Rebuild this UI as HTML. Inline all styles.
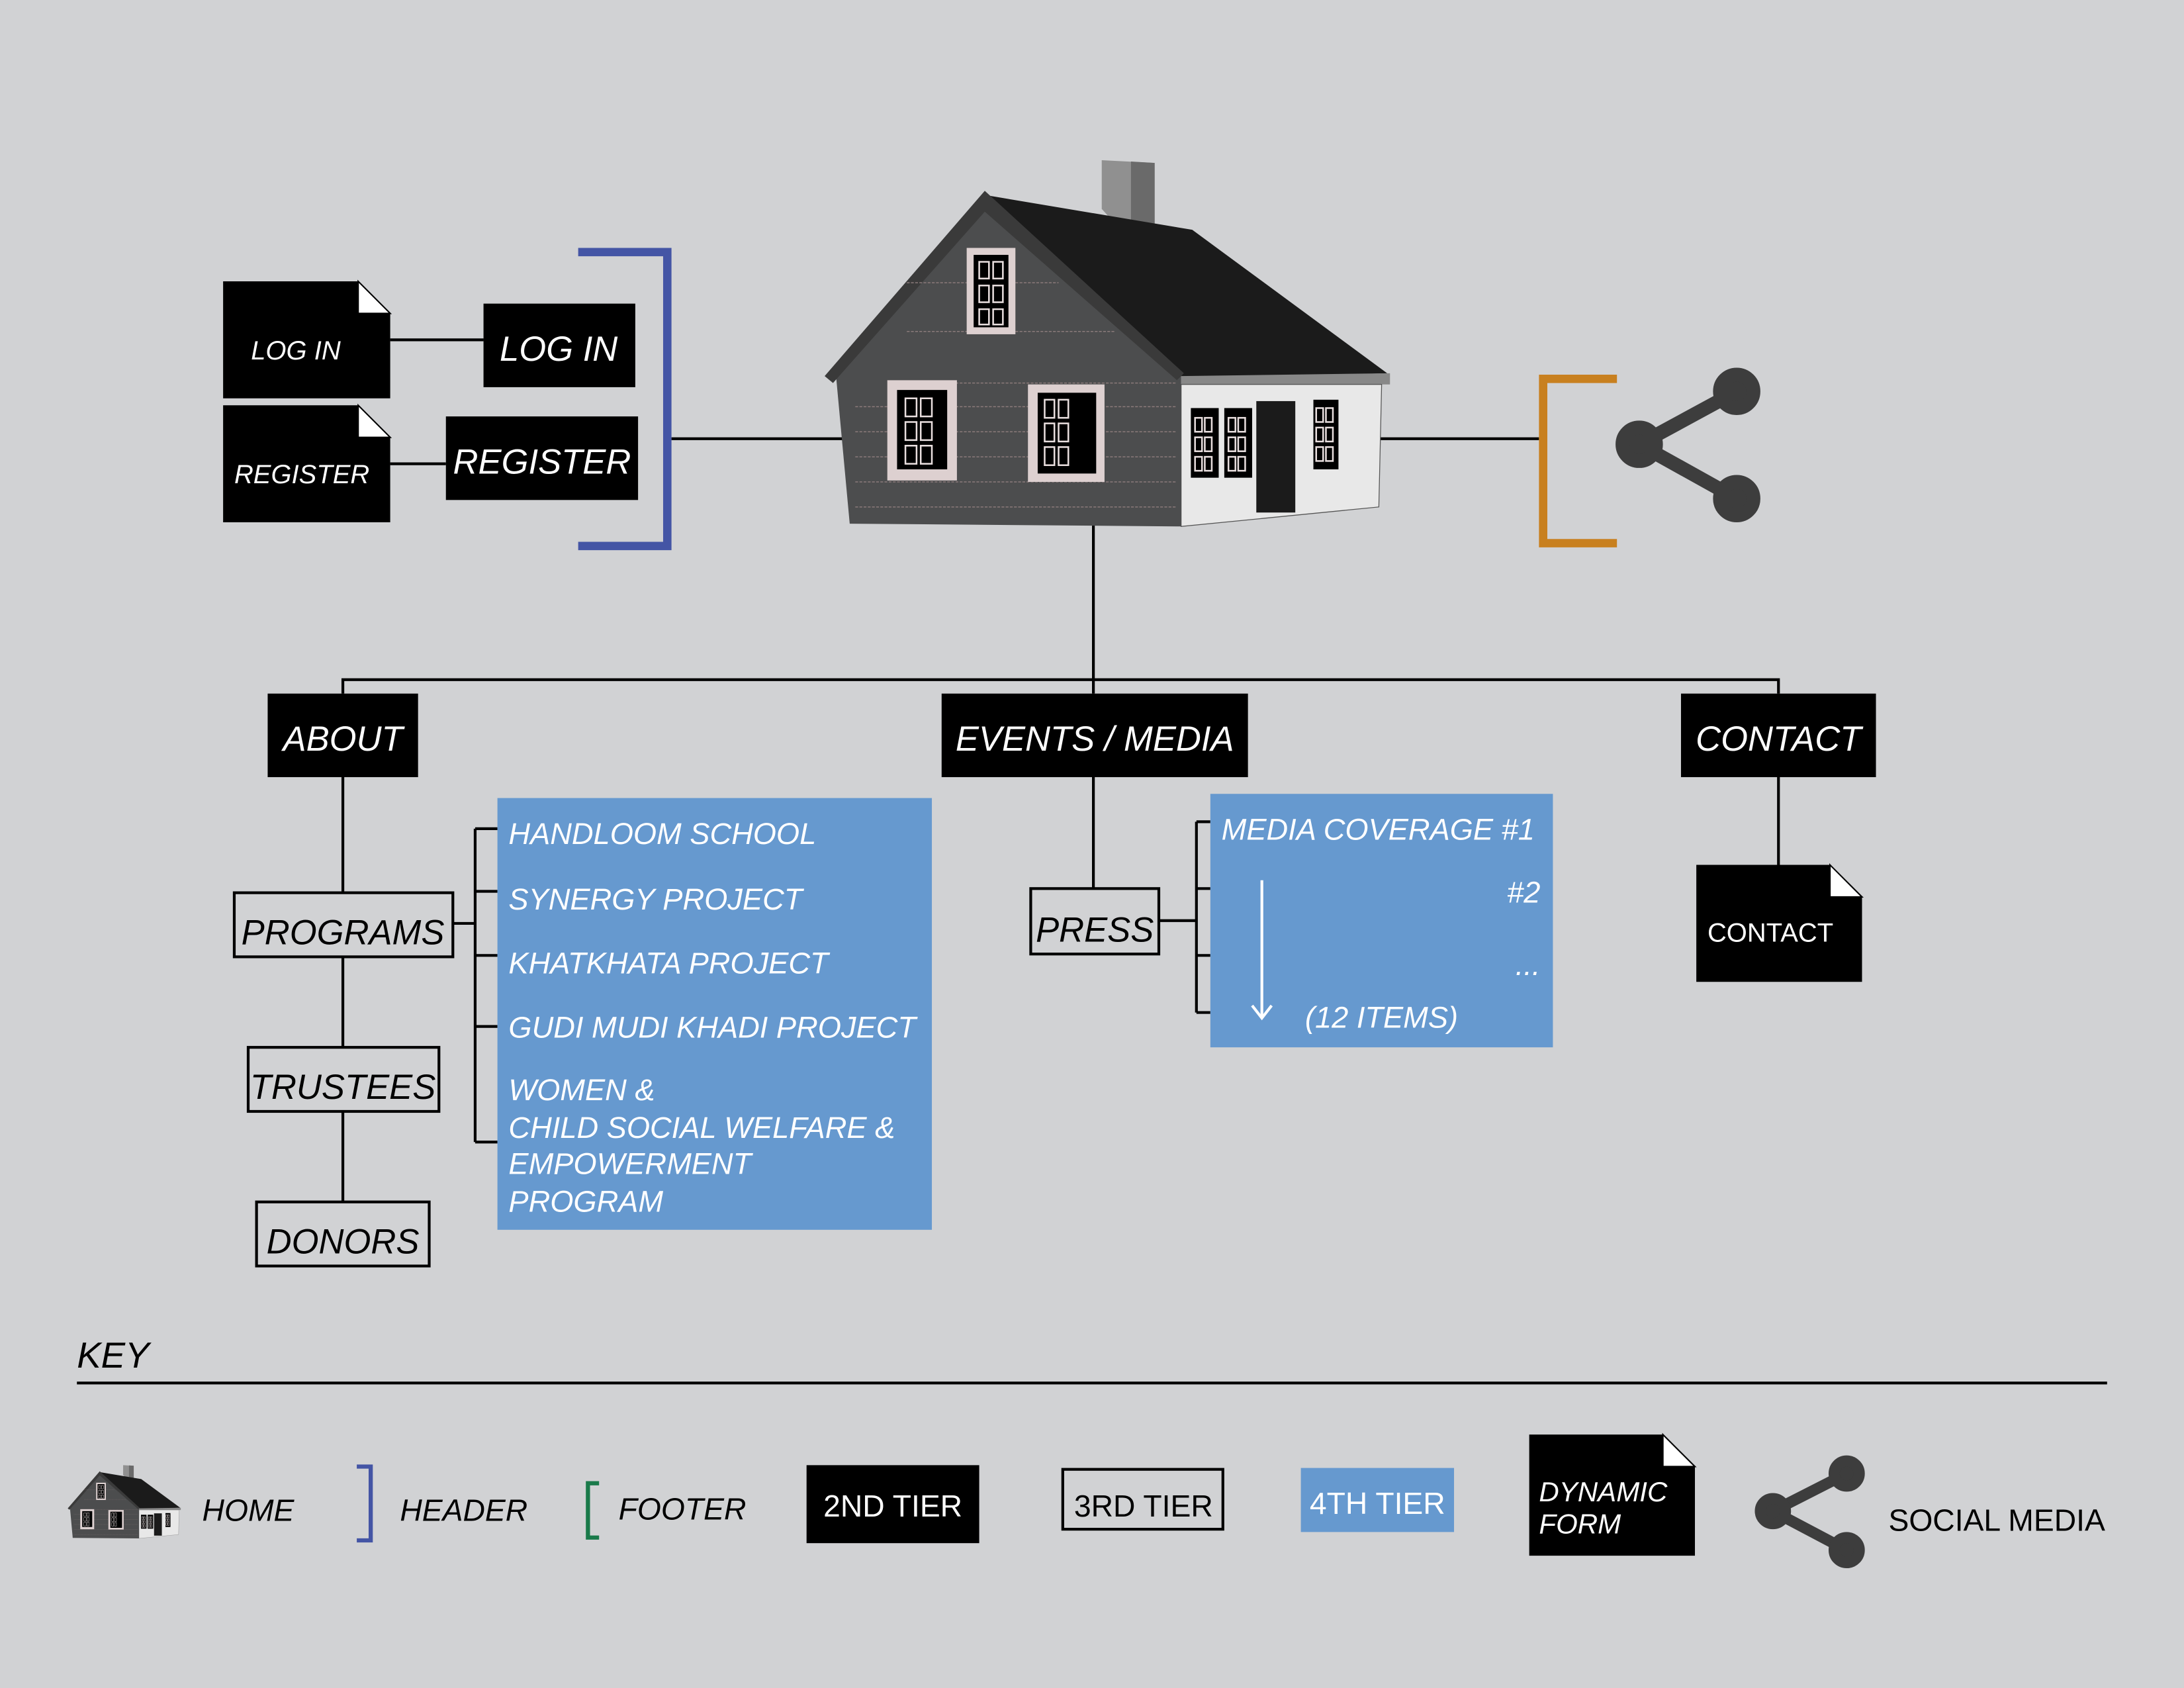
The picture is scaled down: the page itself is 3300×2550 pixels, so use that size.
<!DOCTYPE html>
<html><head><meta charset="utf-8"><style>
html,body{margin:0;padding:0;background:#d1d2d4;}
svg{display:block}
text{font-family:"Liberation Sans","DejaVu Sans",sans-serif;font-style:italic;}
</style></head><body>
<svg width="3300" height="2550" viewBox="0 0 1568 1212" xmlns="http://www.w3.org/2000/svg">
<defs>
<g id="house">
  <polygon points="791,115 829,117 829,170 811,172 791,150" fill="#909090"/>
  <polygon points="812,116 829,117 829,170 812,172" fill="#6a6a6a"/>
  <polygon points="707,140 856,165 996,268 850,272" fill="#1b1b1b"/>
  <polygon points="848,270 998,268 998,276 848,276" fill="#888"/>
  <polygon points="848,276 992,276 990,364 848,378" fill="#e8e8e8" stroke="#555" stroke-width="0.6"/>
  <polygon points="600,268 707,145 848,270 848,378 610,376" fill="#4c4d4e"/>
  <polygon points="592,270 707,137 850,268 845,273 707,152 598,275" fill="#3a3a3a"/>
  <g stroke="#8a7a7a" stroke-width="0.7" stroke-dasharray="2,1">
    <line x1="614" y1="292" x2="845" y2="292"/><line x1="614" y1="310" x2="845" y2="310"/>
    <line x1="614" y1="328" x2="845" y2="328"/><line x1="614" y1="346" x2="845" y2="346"/>
    <line x1="614" y1="364" x2="845" y2="364"/><line x1="641" y1="275" x2="845" y2="275"/>
    <line x1="651" y1="238" x2="800" y2="238"/><line x1="651" y1="203" x2="760" y2="203"/>
  </g>
  <rect x="694" y="233" width="1" height="1" fill="none"/>
  <rect x="694" y="178" width="35" height="62" fill="#ddd0d0"/>
  <rect x="699" y="183" width="25" height="52" fill="#000"/>
  <rect x="637" y="273" width="50" height="72" fill="#ddd0d0"/>
  <rect x="644" y="280" width="36" height="57" fill="#000"/>
  <rect x="738" y="276" width="55" height="70" fill="#ddd0d0"/>
  <rect x="745" y="282" width="42" height="58" fill="#000"/>
  <rect x="855" y="293" width="20" height="50" fill="#000"/>
  <rect x="879" y="293" width="20" height="50" fill="#000"/>
  <rect x="902" y="288" width="28" height="80" fill="#1b1b1b"/>
  <rect x="943" y="287" width="18" height="50" fill="#000"/>
  <g fill="none" stroke="#e8dede" stroke-width="1.2">
    <rect x="703" y="188" width="7" height="12"/><rect x="713" y="188" width="7" height="12"/>
    <rect x="703" y="205" width="7" height="12"/><rect x="713" y="205" width="7" height="12"/>
    <rect x="703" y="222" width="7" height="11"/><rect x="713" y="222" width="7" height="11"/>
    <rect x="650" y="286" width="8" height="13"/><rect x="661" y="286" width="8" height="13"/>
    <rect x="650" y="303" width="8" height="13"/><rect x="661" y="303" width="8" height="13"/>
    <rect x="650" y="320" width="8" height="13"/><rect x="661" y="320" width="8" height="13"/>
    <rect x="750" y="287" width="7" height="13"/><rect x="760" y="287" width="7" height="13"/>
    <rect x="750" y="304" width="7" height="13"/><rect x="760" y="304" width="7" height="13"/>
    <rect x="750" y="321" width="7" height="13"/><rect x="760" y="321" width="7" height="13"/>
    <rect x="858" y="300" width="5" height="10"/><rect x="865" y="300" width="5" height="10"/>
    <rect x="858" y="314" width="5" height="10"/><rect x="865" y="314" width="5" height="10"/>
    <rect x="858" y="328" width="5" height="10"/><rect x="865" y="328" width="5" height="10"/>
    <rect x="882" y="300" width="5" height="10"/><rect x="889" y="300" width="5" height="10"/>
    <rect x="882" y="314" width="5" height="10"/><rect x="889" y="314" width="5" height="10"/>
    <rect x="882" y="328" width="5" height="10"/><rect x="889" y="328" width="5" height="10"/>
    <rect x="945" y="293" width="5" height="10"/><rect x="952" y="293" width="5" height="10"/>
    <rect x="945" y="307" width="5" height="10"/><rect x="952" y="307" width="5" height="10"/>
    <rect x="945" y="321" width="5" height="10"/><rect x="952" y="321" width="5" height="10"/>
  </g>
</g>
</defs>
<rect width="1568" height="1212" fill="#d1d2d4"/>

<!-- connectors -->
<g stroke="#000" stroke-width="2" fill="none">
  <line x1="280" y1="244" x2="347" y2="244"/>
  <line x1="280" y1="333" x2="320" y2="333"/>
  <line x1="482" y1="315" x2="606" y2="315"/>
  <line x1="980" y1="315" x2="1105" y2="315"/>
  <line x1="785" y1="376" x2="785" y2="498"/>
  <polyline points="246,498 246,488 1277,488 1277,498"/>
  <line x1="246" y1="558" x2="246" y2="863"/>
  <line x1="325" y1="663" x2="341" y2="663"/>
  <line x1="341" y1="595" x2="341" y2="820"/>
  <line x1="341" y1="595" x2="357" y2="595"/><line x1="341" y1="640" x2="357" y2="640"/>
  <line x1="341" y1="686" x2="357" y2="686"/><line x1="341" y1="737" x2="357" y2="737"/>
  <line x1="341" y1="820" x2="357" y2="820"/>
  <line x1="785" y1="558" x2="785" y2="638"/>
  <line x1="832" y1="661" x2="859" y2="661"/>
  <line x1="859" y1="590" x2="859" y2="727"/>
  <line x1="859" y1="590" x2="869" y2="590"/><line x1="859" y1="638" x2="869" y2="638"/>
  <line x1="859" y1="686" x2="869" y2="686"/><line x1="859" y1="727" x2="869" y2="727"/>
  <line x1="1277" y1="558" x2="1277" y2="621"/>
</g>

<!-- doc icons -->
<polygon points="160,202 257,202 280,225 280,286 160,286" fill="#000"/>
<polygon points="257,202 280,225 257,225" fill="#fff" stroke="#000"/>
<text x="180" y="258" font-size="19" fill="#fff">LOG IN</text>
<polygon points="160,291 257,291 280,314 280,375 160,375" fill="#000"/>
<polygon points="257,291 280,314 257,314" fill="#fff" stroke="#000"/>
<text x="168" y="347" font-size="19" fill="#fff">REGISTER</text>

<rect x="347" y="218" width="109" height="60" fill="#000"/>
<text x="401" y="259" font-size="25" fill="#fff" text-anchor="middle">LOG IN</text>
<rect x="320" y="299" width="138" height="60" fill="#000"/>
<text x="389" y="340" font-size="25" fill="#fff" text-anchor="middle">REGISTER</text>

<polyline points="415,181 479,181 479,392 415,392" fill="none" stroke="#4455a5" stroke-width="6"/>

<use href="#house"/>

<polyline points="1161,272 1108,272 1108,390 1161,390" fill="none" stroke="#c8801f" stroke-width="6"/>
<g stroke="#3d3d3d" stroke-width="10" fill="#3d3d3d">
  <line x1="1247" y1="281" x2="1177" y2="319"/><line x1="1177" y1="319" x2="1247" y2="358"/>
  <circle cx="1247" cy="281" r="12"/><circle cx="1177" cy="319" r="12"/><circle cx="1247" cy="358" r="12"/>
</g>

<!-- 2nd tier -->
<rect x="192" y="498" width="108" height="60" fill="#000"/>
<text x="246" y="539" font-size="25" fill="#fff" text-anchor="middle">ABOUT</text>
<rect x="676" y="498" width="220" height="60" fill="#000"/>
<text x="786" y="539" font-size="25" fill="#fff" text-anchor="middle">EVENTS / MEDIA</text>
<rect x="1207" y="498" width="140" height="60" fill="#000"/>
<text x="1277" y="539" font-size="25" fill="#fff" text-anchor="middle">CONTACT</text>

<!-- 3rd tier -->
<g fill="#d1d2d4" stroke="#000" stroke-width="2">
  <rect x="168" y="641" width="157" height="46"/>
  <rect x="178" y="752" width="137" height="46"/>
  <rect x="184" y="863" width="124" height="46"/>
  <rect x="740" y="638" width="92" height="47"/>
</g>
<text x="246" y="678" font-size="25" text-anchor="middle">PROGRAMS</text>
<text x="246" y="789" font-size="25" text-anchor="middle">TRUSTEES</text>
<text x="246" y="900" font-size="25" text-anchor="middle">DONORS</text>
<text x="786" y="676" font-size="25" text-anchor="middle">PRESS</text>

<!-- 4th tier -->
<rect x="357" y="573" width="312" height="310" fill="#6699cf"/>
<g font-size="21.5" fill="#fff">
  <text x="365" y="606">HANDLOOM SCHOOL</text>
  <text x="365" y="653">SYNERGY PROJECT</text>
  <text x="365" y="699">KHATKHATA PROJECT</text>
  <text x="365" y="745">GUDI MUDI KHADI PROJECT</text>
  <text x="365" y="790">WOMEN &amp;</text>
  <text x="365" y="817">CHILD SOCIAL WELFARE &amp;</text>
  <text x="365" y="843">EMPOWERMENT</text>
  <text x="365" y="870">PROGRAM</text>
</g>
<rect x="869" y="570" width="246" height="182" fill="#6699cf"/>
<g font-size="21.5" fill="#fff">
  <text x="877" y="603">MEDIA COVERAGE #1</text>
  <text x="1106" y="648" text-anchor="end">#2</text>
  <text x="1106" y="700" text-anchor="end">...</text>
  <text x="937" y="738">(12 ITEMS)</text>
</g>
<g stroke="#fff" stroke-width="2" fill="none">
  <line x1="906" y1="632" x2="906" y2="731"/>
  <polyline points="899,722 906,731 913,722"/>
</g>

<polygon points="1218,621 1314,621 1337,644 1337,705 1218,705" fill="#000"/>
<polygon points="1314,621 1337,644 1314,644" fill="#fff" stroke="#000"/>
<text x="1226" y="676" font-size="19" fill="#fff" style="font-style:normal">CONTACT</text>

<!-- key -->
<text x="55" y="982" font-size="26">KEY</text>
<line x1="55" y1="993" x2="1513" y2="993" stroke="#000" stroke-width="2"/>
<g transform="translate(48,1052) scale(0.2) translate(-590,-115)"><use href="#house"/></g>
<text x="145" y="1092" font-size="22">HOME</text>
<polyline points="256,1053 266,1053 266,1106 256,1106" fill="none" stroke="#4455a5" stroke-width="3"/>
<text x="287" y="1092" font-size="22">HEADER</text>
<polyline points="430,1065 422,1065 422,1104 430,1104" fill="none" stroke="#1a7a4a" stroke-width="3"/>
<text x="444" y="1091" font-size="22">FOOTER</text>
<rect x="579" y="1052" width="124" height="56" fill="#000"/>
<text x="641" y="1089" font-size="22" fill="#fff" text-anchor="middle" style="font-style:normal">2ND TIER</text>
<rect x="763" y="1055" width="115" height="43" fill="none" stroke="#000" stroke-width="2"/>
<text x="821" y="1089" font-size="22" text-anchor="middle" style="font-style:normal">3RD TIER</text>
<rect x="934" y="1054" width="110" height="46" fill="#6699cf"/>
<text x="989" y="1087" font-size="22" fill="#fff" text-anchor="middle" style="font-style:normal">4TH TIER</text>
<polygon points="1098,1030 1194,1030 1217,1053 1217,1117 1098,1117" fill="#000"/>
<polygon points="1194,1030 1217,1053 1194,1053" fill="#fff" stroke="#000"/>
<text x="1105" y="1078" font-size="20" fill="#fff">DYNAMIC</text>
<text x="1105" y="1101" font-size="20" fill="#fff">FORM</text>
<g stroke="#3d3d3d" stroke-width="8" fill="#3d3d3d">
  <line x1="1326" y1="1058" x2="1273" y2="1085"/><line x1="1273" y1="1085" x2="1326" y2="1113"/>
  <circle cx="1326" cy="1058" r="9"/><circle cx="1273" cy="1085" r="9"/><circle cx="1326" cy="1113" r="9"/>
</g>
<text x="1356" y="1099" font-size="22" style="font-style:normal">SOCIAL MEDIA</text>
</svg>
</body></html>
